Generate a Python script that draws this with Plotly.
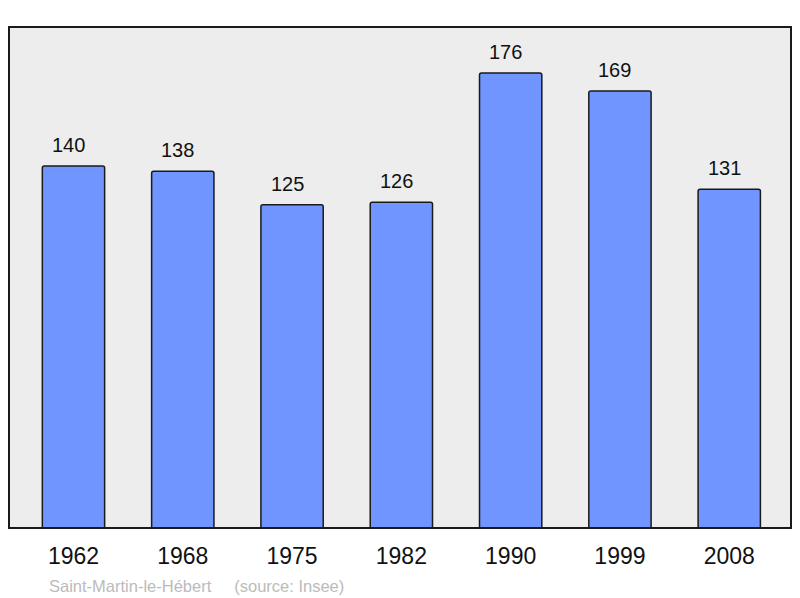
import plotly.graph_objects as go

years = ["1962", "1968", "1975", "1982", "1990", "1999", "2008"]
population = [140, 138, 125, 126, 176, 169, 131]
commune = "Saint-Martin-le-Hébert"
source = "(source: Insee)"

fig = go.Figure(go.Bar(
    x=years,
    y=population,
    width=0.57,
    marker=dict(color="#7095ff", line=dict(color="#1a1a1a", width=1.5), cornerradius=2),
    hoverinfo="x+y",
))

# value labels above the bars (category axis -> use the category index)
for i, val in enumerate(population):
    fig.add_annotation(x=i, y=val, text=str(val), showarrow=False,
                       yanchor="bottom", yshift=8, xshift=-5,
                       font=dict(size=20, color="#111111"))

# frame around the plot area
fig.add_shape(type="rect", xref="paper", yref="paper", x0=0, y0=0, x1=1, y1=1,
              line=dict(color="#1a1a1a", width=2), layer="above")

fig.add_annotation(xref="paper", yref="paper", x=0.048, y=-0.115,
                   xanchor="left", yanchor="middle", showarrow=False,
                   text=commune + "&nbsp;&nbsp;&nbsp;&nbsp;&nbsp;" + source,
                   font=dict(size=16.5, color="#bbbbbb"))

# page body adds 8px offset, margins compensate
fig.update_layout(
    width=800, height=598,
    margin=dict(l=1, r=17, t=19, b=78),
    paper_bgcolor="white",
    plot_bgcolor="#ededed",
    font=dict(family="Liberation Sans, Arial, sans-serif"),
    showlegend=False,
)
fig.update_xaxes(type="category", range=[-0.59, 6.565], showgrid=False,
                 ticks="", tickfont=dict(size=23, color="#111111"), ticklabelstandoff=12)
fig.update_yaxes(range=[0, 193.8], showgrid=False, showticklabels=False,
                 zeroline=False)

fig.write_html("out.html")
